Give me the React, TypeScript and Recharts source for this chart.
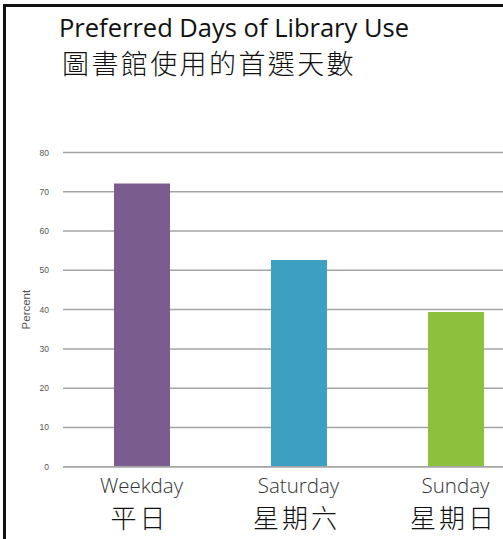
import { BarChart, Bar, XAxis, YAxis, CartesianGrid, Cell } from "recharts";

const categoriesEn = ["Weekday", "Saturday", "Sunday"];
const categoriesZh = ["平日", "星期六", "星期日"];
const percentValues = [72.1, 52.6, 39.4];
const yTicks = [0, 10, 20, 30, 40, 50, 60, 70, 80];
const barColors = ["#7a5c8e", "#3d9fc1", "#8dc03d"];

const data = categoriesEn.map((name, i) => ({
  name,
  zh: categoriesZh[i],
  percent: percentValues[i]
}));

// two-line category label: english on top, chinese below
const CategoryTick = (props: any) => {
  const { x, y, payload } = props;
  const zh = categoriesZh[categoriesEn.indexOf(payload.value)];
  return (
    <g>
      <text
        x={x}
        y={y + 26.5}
        textAnchor="middle"
        fill="#333"
        fontSize={20.5}
        fontWeight={300}
        fontFamily="'Open Sans', sans-serif"
      >
        {payload.value}
      </text>
      <text
        x={x - 2}
        y={y + 61}
        textAnchor="middle"
        fill="#111"
        fontSize={26}
        fontWeight={300}
        letterSpacing={3}
        fontFamily="'Noto Sans CJK TC', sans-serif"
      >
        {zh}
      </text>
    </g>
  );
};

const PercentLabel = (props: any) => {
  const { viewBox } = props;
  const cy = viewBox.y + viewBox.height / 2;
  return (
    <text
      x={26}
      y={cy}
      transform={`rotate(-90, 26, ${cy})`}
      textAnchor="middle"
      dominantBaseline="central"
      fill="#555"
      fontSize={11.5}
      fontFamily="'Liberation Sans', Arial, sans-serif"
    >
      Percent
    </text>
  );
};

export default function App() {
  return (
    <div
      style={{
        position: "fixed",
        left: 0,
        top: 0,
        width: 503,
        height: 539,
        overflow: "hidden",
        background: "#fff"
      }}
    >
      <BarChart
        width={540}
        height={539}
        data={data}
        margin={{ top: 152.5, right: 6, left: 0, bottom: 0 }}
        barCategoryGap={0}
      >
        <CartesianGrid vertical={false} stroke="#a4a4a4" strokeWidth={1.5} />
        <XAxis
          dataKey="name"
          height={72.3}
          tick={<CategoryTick />}
          tickLine={false}
          tickSize={0}
          tickMargin={0}
          axisLine={{ stroke: "#a4a4a4", strokeWidth: 1.5 }}
          interval={0}
        />
        <YAxis
          width={63}
          domain={[0, 80]}
          ticks={yTicks}
          axisLine={false}
          tickLine={false}
          tickMargin={8}
          tick={{ fontSize: 8.5, fill: "#555", fontFamily: "'Liberation Sans', Arial, sans-serif" }}
          label={<PercentLabel />}
        />
        <Bar dataKey="percent" barSize={56} isAnimationActive={false}>
          {data.map((_, i) => (
            <Cell key={i} fill={barColors[i]} />
          ))}
        </Bar>
      </BarChart>

      {/* titles */}
      <svg
        width={503}
        height={100}
        style={{ position: "absolute", left: 0, top: 0 }}
      >
        <text
          x={59}
          y={36.5}
          fill="#111"
          fontSize={25.5}
          fontFamily="'Open Sans', sans-serif"
        >
          Preferred Days of Library Use
        </text>
        <text
          x={62}
          y={74}
          fill="#111"
          fontSize={27}
          fontWeight={300}
          letterSpacing={2.4}
          fontFamily="'Noto Sans CJK TC', sans-serif"
        >
          圖書館使用的首選天數
        </text>
      </svg>

      {/* frame on the left and top */}
      <div
        style={{
          position: "absolute",
          left: 3,
          top: 4,
          right: -10,
          bottom: -10,
          borderLeft: "3px solid #111",
          borderTop: "3px solid #111"
        }}
      />
    </div>
  );
}
